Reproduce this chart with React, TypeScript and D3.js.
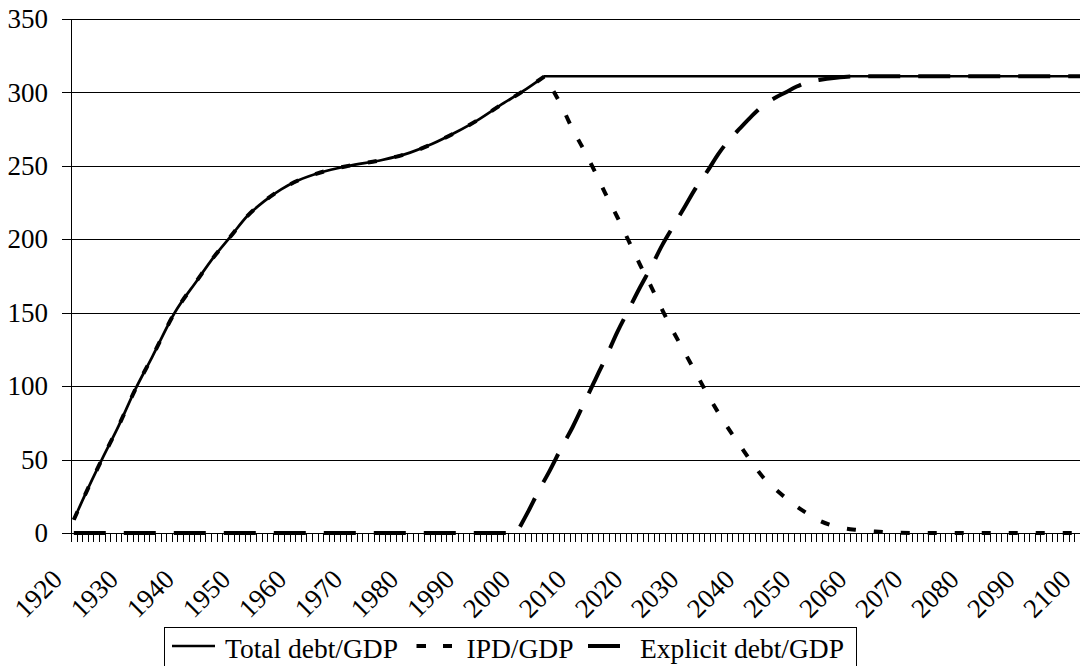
import React from "react";
import * as d3 from "d3";

// ---------- data ----------
const firstYear = 1920;
const lastYear = 2100;
const labelYears = d3.range(1920, 2101, 10);
const yTicks = [0, 50, 100, 150, 200, 250, 300, 350];

const totalYears = [1920, 1922, 1925, 1928, 1931, 1934, 1938, 1942, 1945, 1948, 1951, 1954, 1957, 1960, 1964, 1969, 1975, 1980, 1984, 1988, 1992, 1996, 2000, 2004, 2100];
const totalValues = [9, 26, 50, 73, 98, 120, 150, 172, 188, 202, 216, 226, 234, 240, 245.5, 250, 254, 259, 265, 272.5, 281, 291, 300.5, 311, 311];

const ipdYears = [1920, 1922, 1925, 1928, 1931, 1934, 1938, 1942, 1945, 1948, 1951, 1954, 1957, 1960, 1964, 1969, 1975, 1980, 1984, 1988, 1992, 1996, 2000, 2004, 2007, 2009, 2011, 2013, 2015, 2017, 2019, 2021, 2023, 2025, 2027, 2029, 2031, 2033, 2035, 2037, 2039, 2041, 2043, 2045, 2047, 2049, 2051, 2053, 2055, 2057, 2060, 2063, 2066, 2070, 2100];
const ipdValues = [9, 26, 50, 73, 98, 120, 150, 172, 188, 202, 216, 226, 234, 240, 245.5, 250, 254, 259, 265, 272.5, 281, 291, 300.5, 311, 291, 275, 261, 246, 230, 215, 199, 183, 168, 152, 137, 123, 109, 95, 82, 70, 59, 48, 38, 30.5, 24, 18, 13, 8.5, 5.5, 3.5, 2, 1, 0.3, 0, 0];

const explicitYears = [1920, 1999, 2001, 2003, 2005, 2007, 2009, 2011, 2013, 2015, 2017, 2019, 2021, 2023, 2025, 2027, 2029, 2031, 2033, 2035, 2037, 2039, 2041, 2043, 2045, 2047, 2049, 2051, 2053, 2056, 2060, 2100];
const explicitValues = [0, 0, 14, 29, 43, 58, 72, 88, 104, 120, 137, 152, 167, 181, 196, 209, 222, 235, 246, 258, 268, 276, 284, 291, 296, 300, 304, 307, 308.5, 310, 311, 311];

const seriesNames = ["Total debt/GDP", "IPD/GDP", "Explicit debt/GDP"];

// ---------- layout ----------
const W = 1080;
const H = 666;
const plotLeft = 71;
const step = 5.604;
const plotRight = plotLeft + (lastYear - firstYear + 1) * step;
const plotTop = 19;
const plotBottom = 533;
const font = "Liberation Serif";

const x = d3.scaleLinear().domain([firstYear - 0.5, lastYear + 0.5]).range([plotLeft, plotRight]);
const y = d3.scaleLinear().domain([0, 350]).range([plotBottom, plotTop]);

const smooth = d3
  .line<[number, number]>()
  .x((d) => x(d[0]))
  .y((d) => y(d[1]))
  .curve(d3.curveMonotoneX);

const zip = (a: number[], b: number[]) => a.map((v, i) => [v, b[i]] as [number, number]);

// split a series at the peak year so the peak stays a sharp corner
const pathFor = (ys: number[], vs: number[], breakYear: number | null) => {
  const pts = zip(ys, vs);
  if (breakYear === null) return smooth(pts) || "";
  const i = ys.indexOf(breakYear);
  return (smooth(pts.slice(0, i + 1)) || "") + (smooth(pts.slice(i)) || "").replace(/^M/, "L");
};

export default function App() {
  const tickBounds = d3.range(firstYear, lastYear + 2);
  return (
    <svg
      width={W}
      height={H}
      viewBox={`0 0 ${W} ${H}`}
      style={{ position: "absolute", left: 0, top: 0, background: "#fff", fontFamily: font }}
    >
      <rect x={0} y={0} width={W} height={H} fill="#fff" />
      {/* gridlines */}
      {yTicks.map((t) => (
        <line
          key={"g" + t}
          x1={plotLeft - 9}
          x2={plotRight}
          y1={Math.round(y(t)) + 0.5}
          y2={Math.round(y(t)) + 0.5}
          stroke="#000"
          strokeWidth={1}
        />
      ))}
      {/* y axis */}
      <line x1={plotLeft + 0.5} x2={plotLeft + 0.5} y1={plotTop} y2={plotBottom + 8} stroke="#000" strokeWidth={1} />
      {/* x ticks */}
      {tickBounds.map((yr) => (
        <line
          key={"t" + yr}
          x1={Math.round(x(yr - 0.5)) + 0.5}
          x2={Math.round(x(yr - 0.5)) + 0.5}
          y1={plotBottom}
          y2={plotBottom + 9}
          stroke="#000"
          strokeWidth={1}
        />
      ))}
      {/* y labels */}
      {yTicks.map((t) => (
        <text
          key={"yl" + t}
          x={48}
          y={y(t) + 9.2}
          textAnchor="end"
          style={{ fontFamily: font, fontSize: "27px" }}
          fill="#000"
        >
          {t}
        </text>
      ))}
      {/* x labels */}
      {labelYears.map((yr) => {
        const ax = x(yr) - 10;
        const ay = 581;
        return (
          <text
            key={"xl" + yr}
            x={ax}
            y={ay}
            textAnchor="end"
            style={{ fontFamily: font, fontSize: "27px" }}
            fill="#000"
            transform={`rotate(-45 ${ax} ${ay})`}
          >
            {yr}
          </text>
        );
      })}
      {/* series */}
      <path d={pathFor(totalYears, totalValues, 2004)} fill="none" stroke="#000" strokeWidth={2.7} />
      <path
        d={pathFor(ipdYears, ipdValues, 2004)}
        fill="none"
        stroke="#000"
        strokeWidth={4}
        strokeDasharray="9 18"
      />
      <path
        d={pathFor(explicitYears, explicitValues, 1999)}
        fill="none"
        stroke="#000"
        strokeWidth={4}
        strokeDasharray="32 18"
      />
      {/* legend */}
      <rect x={164.5} y={627.5} width={692} height={60} fill="#fff" stroke="#000" strokeWidth={1} />
      <line x1={172} x2={215} y1={646} y2={646} stroke="#000" strokeWidth={2.7} />
      <text x={225} y={658} style={{ fontFamily: font, fontSize: "27.5px" }} fill="#000">
        {seriesNames[0]}
      </text>
      <line x1={416.5} x2={452} y1={646} y2={646} stroke="#000" strokeWidth={4} strokeDasharray="9.5 17" />
      <text x={466.5} y={658} style={{ fontFamily: font, fontSize: "27.5px" }} fill="#000">
        {seriesNames[1]}
      </text>
      <line x1={588} x2={620} y1={646} y2={646} stroke="#000" strokeWidth={4} />
      <text x={640} y={658} style={{ fontFamily: font, fontSize: "27.5px" }} fill="#000">
        {seriesNames[2]}
      </text>
    </svg>
  );
}
